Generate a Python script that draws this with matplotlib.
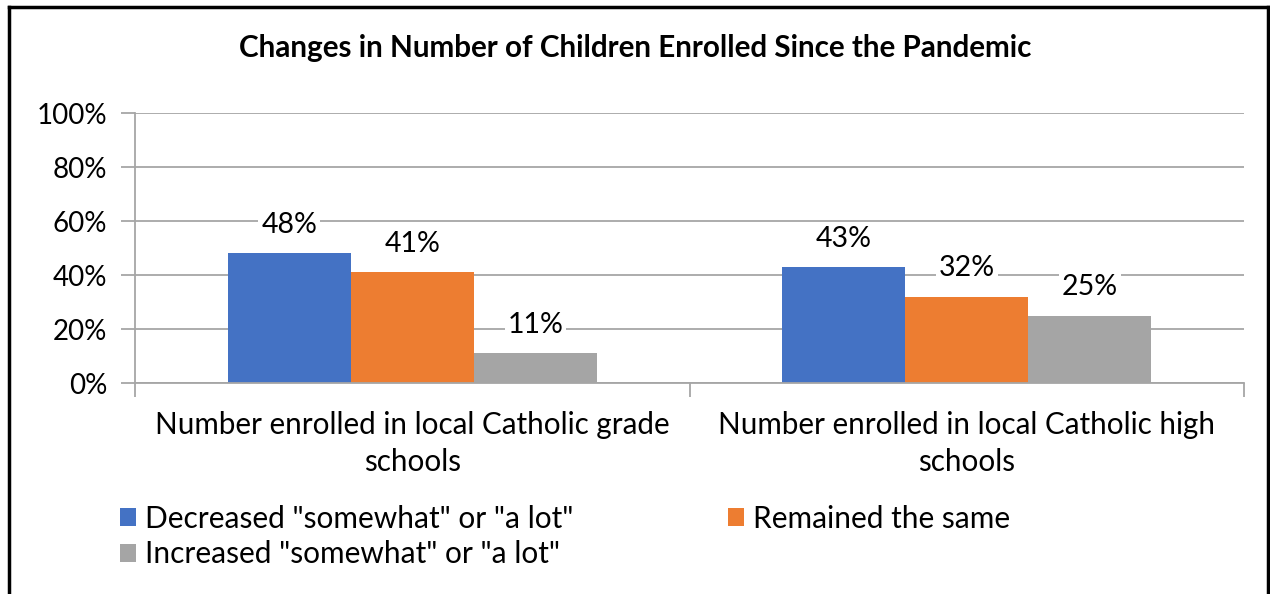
import numpy as np
import matplotlib.pyplot as plt
from matplotlib.lines import Line2D

plt.rcParams['font.family'] = ['Lato', 'DejaVu Sans']

categories = ["Number enrolled in local Catholic grade\nschools",
              "Number enrolled in local Catholic high\nschools"]
series = ['Decreased "somewhat" or "a lot"',
          'Remained the same',
          'Increased "somewhat" or "a lot"']
values = [[48, 43],
          [41, 32],
          [11, 25]]
colors = ["#4472c4", "#ed7d31", "#a5a5a5"]
title = "Changes in Number of Children Enrolled Since the Pandemic"

W, H = 1270, 594
fig = plt.figure(figsize=(W / 100, H / 100), dpi=100)
ax = fig.add_axes([135 / W, 1 - 383 / H, (1244 - 135) / W, (383 - 113) / H])

grid_c = "#a6a6a6"
x = np.arange(len(categories))
width = 0.222
for i, (name, vals, c) in enumerate(zip(series, values, colors)):
    pos = x + (i - 1) * width
    bars = ax.bar(pos, vals, width, color=c, label=name, zorder=2)
    for b, v in zip(bars, vals):
        ax.annotate(f"{v}%", (b.get_x() + b.get_width() / 2, v),
                    xytext=(0, 11), textcoords="offset points",
                    ha="center", va="bottom", fontsize=20.5, zorder=4,
                    bbox=dict(facecolor="white", edgecolor="none", pad=2))

ax.set_xlim(-0.5, len(categories) - 0.5)
ax.set_ylim(0, 100)
ax.set_yticks(range(0, 101, 20))
ax.set_yticklabels([f"{t}%" for t in range(0, 101, 20)], fontsize=20)
ax.yaxis.grid(True, color=grid_c, linewidth=1.3, zorder=0)
ax.set_axisbelow(True)

ax.set_xticks(x)
ax.set_xticklabels(categories, fontsize=21.3, linespacing=1.4)
ax.set_xticks(np.arange(-0.5, len(categories)), minor=True)
ax.tick_params(axis="x", which="major", length=0, pad=20)
ax.tick_params(axis="x", which="minor", length=10, color=grid_c, width=1.3)
ax.tick_params(axis="y", length=10, color=grid_c, width=1.3, pad=10)

for s in ["top", "right"]:
    ax.spines[s].set_visible(False)
for s in ["left", "bottom"]:
    ax.spines[s].set_color(grid_c)
    ax.spines[s].set_linewidth(1.3)

fig.text(0.5, 1 - 48 / H, title, ha="center", va="center",
         fontsize=21.3, fontweight="bold")

handles, labels = ax.get_legend_handles_labels()
order = [0, 2, 1]
fig.legend([handles[i] for i in order], [labels[i] for i in order],
           loc="upper left", bbox_to_anchor=(120 / W, 1 - 505 / H),
           ncol=2, frameon=False, fontsize=21.5, handlelength=0.55,
           handleheight=0.55, handletextpad=0.3, columnspacing=5.15,
           labelspacing=0.25, borderaxespad=0, borderpad=0)

# outer chart border (bottom edge lies below the image)
bc = "black"
fig.add_artist(Line2D([9 / W, 9 / W], [0, 1 - 7 / H], color=bc, lw=2.5))
fig.add_artist(Line2D([9 / W, 1268 / W], [1 - 7 / H, 1 - 7 / H], color=bc, lw=2.5))
fig.add_artist(Line2D([1268 / W, 1268 / W], [0, 1 - 7 / H], color=bc, lw=2.5))

fig.savefig("out.png", dpi=100)
